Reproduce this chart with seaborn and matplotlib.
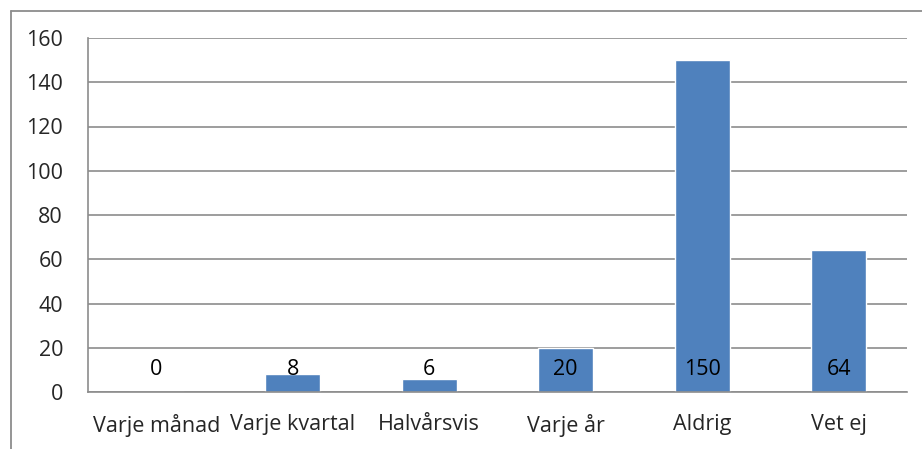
import matplotlib
matplotlib.use("Agg")
import matplotlib.pyplot as plt
import seaborn as sns
import pandas as pd
from matplotlib.lines import Line2D

categories = ["Varje månad", "Varje kvartal", "Halvårsvis", "Varje år", "Aldrig", "Vet ej"]
values = [0, 8, 6, 20, 150, 64]
yticks = [0, 20, 40, 60, 80, 100, 120, 140, 160]

sns.set_style("white")
plt.rcParams['font.family'] = ['Open Sans', 'DejaVu Sans']
FS = 15.5

W, H = 922, 449
fig = plt.figure(figsize=(W / 100, H / 100), dpi=100)
ax = fig.add_axes([88 / W, 1 - 392 / H, (907 - 88) / W, (392 - 38) / H])

df = pd.DataFrame({"cat": categories, "val": values})
sns.barplot(data=df, x="cat", y="val", color="#4F81BD", saturation=1, width=0.4, ax=ax)

ax.set_ylim(0, 160)
ax.set_xlim(-0.5, len(categories) - 0.5)
ax.set_yticks(yticks)
ax.set_yticklabels([str(t) for t in yticks], fontsize=FS)
ax.yaxis.grid(True, color="#8C8C8C", linewidth=1.2)
ax.set_axisbelow(True)
ax.set_xlabel("")
ax.set_ylabel("")

# x ticks at category boundaries, labels at centers
ax.set_xticks([i - 0.5 for i in range(len(categories) + 1)], minor=False)
ax.set_xticklabels([""] * (len(categories) + 1))
ax.set_xticks(range(len(categories)), minor=True)
ax.set_xticklabels(categories, minor=True, fontsize=FS)
ax.tick_params(axis="x", which="major", direction="out", length=6, color="#8C8C8C", width=1.2)
ax.tick_params(axis="x", which="minor", length=0, pad=16)
ax.tick_params(axis="y", direction="out", length=6, color="#8C8C8C", width=1.2, pad=12)

for s in ["top", "right"]:
    ax.spines[s].set_visible(False)
for s in ["left", "bottom"]:
    ax.spines[s].set_color("#8C8C8C")
    ax.spines[s].set_linewidth(1.2)

for i, v in enumerate(values):
    ax.annotate(str(v), xy=(i, 0), xytext=(0, 16.5), textcoords="offset points",
                ha="center", va="center", fontsize=FS, color="black")

# outer chart border (top and left visible)
fig.add_artist(Line2D([11 / W, 1], [1 - 11 / H, 1 - 11 / H], transform=fig.transFigure, color="#8C8C8C", linewidth=1.3))
fig.add_artist(Line2D([11 / W, 11 / W], [0, 1 - 11 / H], transform=fig.transFigure, color="#8C8C8C", linewidth=1.3))

fig.savefig("out.png", dpi=100)
